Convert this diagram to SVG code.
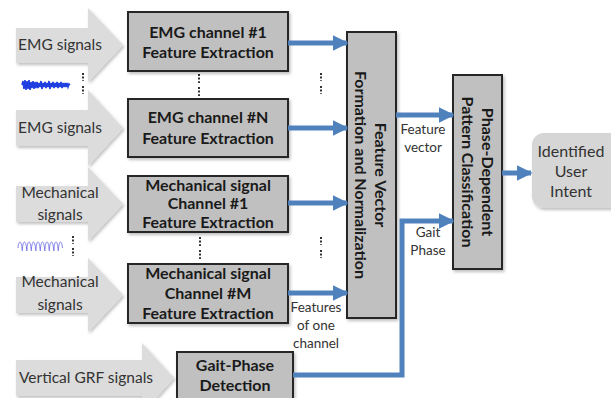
<svg xmlns="http://www.w3.org/2000/svg" width="611" height="398" viewBox="0 0 611 398">
<defs>
<filter id="sh" x="-10%" y="-10%" width="130%" height="130%">
<feDropShadow dx="1.5" dy="2" stdDeviation="1.5" flood-color="#000" flood-opacity="0.25"/>
</filter>
<marker id="ah" viewBox="0 0 10 10" refX="9" refY="5" markerWidth="3.2" markerHeight="3.4" orient="auto" markerUnits="strokeWidth">
<path d="M0,0 L10,5 L0,10 z" fill="#4f81bd"/>
</marker>
</defs>
<style>
.in{fill:#dcdcdc;filter:url(#sh)}
.box{fill:#c0c0c0;stroke:#262626;stroke-width:2;filter:url(#sh)}
.bt{font-family:Lato,"Liberation Sans",sans-serif;font-weight:bold;font-size:16px;fill:#1a1a1a;text-anchor:middle}
.it{font-family:Lato,"Liberation Sans",sans-serif;font-size:15.5px;fill:#333;text-anchor:middle}
.st{font-family:Lato,"Liberation Sans",sans-serif;font-size:13.5px;fill:#333;text-anchor:middle}
.c{fill:none;stroke:#4f81bd;stroke-width:5;marker-end:url(#ah)}
.dot{fill:none;stroke:#333;stroke-width:2;stroke-dasharray:2 1.6}
</style>
<rect width="611" height="398" fill="#fff"/>

<g id="in-emg1">
<path class="in" d="M16,28 H88 V8 L123,45 L88,82 V63 H16 z"/>
<text class="it" x="60" y="50">EMG signals</text>
</g>
<g id="in-emg2">
<path class="in" d="M16,110 H88 V90 L123,128 L88,166 V146 H16 z"/>
<text class="it" x="60" y="133">EMG signals</text>
</g>
<g id="in-mech1">
<path class="in" d="M16,186 H88 V167 L123,204 L88,241 V222 H16 z"/>
<text class="it" x="60" y="198">Mechanical</text>
<text class="it" x="60" y="220">signals</text>
</g>
<g id="in-mech2">
<path class="in" d="M16,277 H88 V258 L123,295 L88,332 V313 H16 z"/>
<text class="it" x="60" y="287">Mechanical</text>
<text class="it" x="60" y="310">signals</text>
</g>
<g id="in-grf">
<path class="in" d="M16,360 H142 V343 L174,378 L142,413 V396 H16 z"/>
<text class="it" x="86" y="383">Vertical GRF signals</text>
</g>

<g id="waveforms">
<polyline fill="none" stroke="#1f3fe0" stroke-width="1.6" points="22,85 23,81 24,89 25,80 26,90 27,81 28,89 29,80 30,90 31,82 32,88 33,81 34,89 35,82 36,88 37,82 38,88 39,83 40,87 41,81 42,89 43,83 44,87 45,82 46,88 47,83 48,87 49,81 50,89 51,83 52,87 53,82 54,88 55,83 56,87 57,82 58,88 59,83 60,87 61,82 62,88 63,83 64,87 65,83 66,87 67,83 68,87 69,84 70,85"/>
<path fill="none" stroke="#7a7ae8" stroke-width="1" d="M18,248 c0.8,-8 3.2,-8 4,0 c0.4,4 0.4,4 0.5,0 c0.8,-8 3.2,-8 4,0 c0.4,4 0.4,4 0.5,0 c0.8,-8 3.2,-8 4,0 c0.4,4 0.4,4 0.5,0 c0.8,-8 3.2,-8 4,0 c0.4,4 0.4,4 0.5,0 c0.8,-8 3.2,-8 4,0 c0.4,4 0.4,4 0.5,0 c0.8,-8 3.2,-8 4,0 c0.4,4 0.4,4 0.5,0 c0.8,-8 3.2,-8 4,0 c0.4,4 0.4,4 0.5,0 c0.8,-8 3.2,-8 4,0 c0.4,4 0.4,4 0.5,0 c0.8,-8 3.2,-8 4,0 c0.4,4 0.4,4 0.5,0 c0.8,-8 3.2,-8 4,0"/>
</g>

<g id="ellipses">
<path class="dot" d="M83,73 V81 M83,86 V94"/>
<path class="dot" d="M199,74 V83 M199,87 V96"/>
<path class="dot" d="M321,73 V81 M321,86 V94"/>
<path class="dot" d="M73,236 V244 M73,248 V256"/>
<path class="dot" d="M200,237 V246 M200,250 V259"/>
<path class="dot" d="M321,237 V245 M321,250 V258"/>
</g>

<g id="emg1">
<rect class="box" x="128" y="12" width="160" height="59"/>
<text class="bt" x="208" y="38">EMG channel #1</text>
<text class="bt" x="208" y="58">Feature Extraction</text>
</g>
<g id="emgN">
<rect class="box" x="128" y="99" width="160" height="58"/>
<text class="bt" x="208" y="123">EMG channel #N</text>
<text class="bt" x="208" y="144">Feature Extraction</text>
</g>
<g id="mech1">
<rect class="box" x="128" y="176" width="160" height="56"/>
<text class="bt" x="208" y="191">Mechanical signal</text>
<text class="bt" x="208" y="209">Channel #1</text>
<text class="bt" x="208" y="228">Feature Extraction</text>
</g>
<g id="mechM">
<rect class="box" x="128" y="264" width="160" height="59"/>
<text class="bt" x="208" y="279">Mechanical signal</text>
<text class="bt" x="208" y="299">Channel #M</text>
<text class="bt" x="208" y="319">Feature Extraction</text>
</g>
<g id="gait">
<rect class="box" x="177" y="352" width="116" height="50"/>
<text class="bt" x="235" y="371">Gait-Phase</text>
<text class="bt" x="235" y="391">Detection</text>
</g>
<g id="fv">
<rect class="box" x="347" y="32" width="49" height="286"/>
<text class="bt" transform="translate(375,175) rotate(90)">Feature Vector</text>
<text class="bt" transform="translate(355,175) rotate(90)">Formation and Normalization</text>
</g>
<g id="pdpc">
<rect class="box" x="453" y="75" width="49" height="194"/>
<text class="bt" transform="translate(482,172) rotate(90)">Phase-Dependent</text>
<text class="bt" transform="translate(462,172) rotate(90)">Pattern Classification</text>
</g>
<g id="intent">
<rect x="532" y="133" width="90" height="75" rx="12" fill="#d6d6d6" filter="url(#sh)"/>
<text class="it" x="571" y="157" style="font-size:16px">Identified</text>
<text class="it" x="571" y="177" style="font-size:16px">User</text>
<text class="it" x="571" y="197" style="font-size:16px">Intent</text>
</g>

<g id="connectors">
<path class="c" d="M288,43 H347"/>
<path class="c" d="M288,128 H347"/>
<path class="c" d="M288,203 H347"/>
<path class="c" d="M288,293 H347"/>
<path class="c" d="M396,115 H453"/>
<path class="c" d="M502,173 H531"/>
<path class="c" d="M293,375 H402 V221 H453" stroke-linejoin="miter"/>
<text class="st" x="423" y="134">Feature</text>
<text class="st" x="423" y="152">vector</text>
<text class="st" x="428" y="237">Gait</text>
<text class="st" x="428" y="255">Phase</text>
<text class="st" x="316" y="312">Features</text>
<text class="st" x="316" y="330">of one</text>
<text class="st" x="316" y="348">channel</text>
</g>
</svg>
